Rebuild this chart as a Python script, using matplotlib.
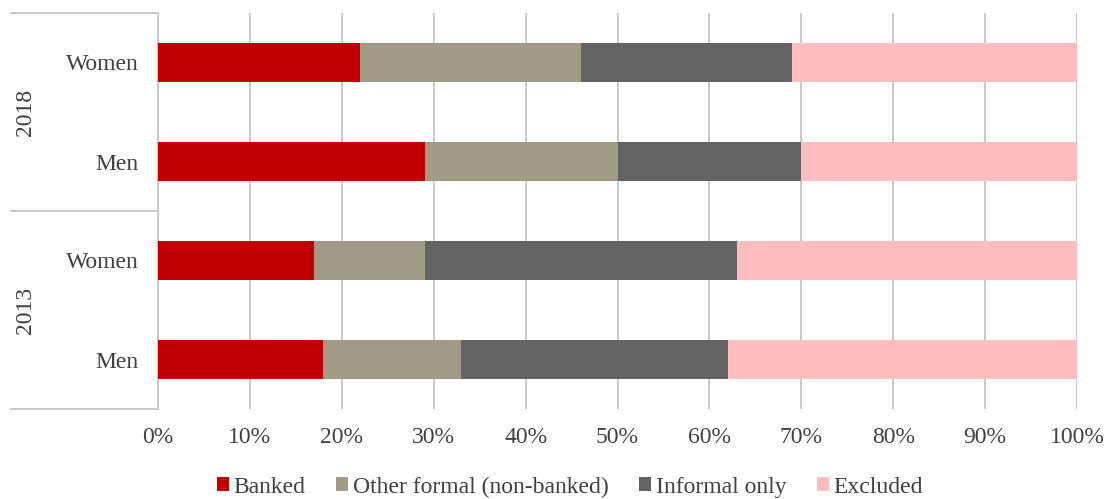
import matplotlib
matplotlib.use("Agg")
import matplotlib.pyplot as plt
import numpy as np

# Categories listed bottom to top
years = ["2013", "2018"]
groups = ["Men", "Women", "Men", "Women"]
group_years = ["2013", "2013", "2018", "2018"]

series_names = ["Banked", "Other formal (non-banked)", "Informal only", "Excluded"]
banked = [18, 17, 29, 22]
other_formal = [15, 12, 21, 24]
informal_only = [29, 34, 20, 23]
excluded = [38, 37, 30, 31]

colors = ["#C00000", "#A29A86", "#636363", "#FFBDBD"]
text_color = "#404040"
grid_color = "#c8c8c8"
fs = 17

plt.rcParams["font.family"] = ["Liberation Serif", "DejaVu Serif"]
plt.rcParams["font.size"] = fs

fig = plt.figure(figsize=(11.11, 4.99), dpi=100)
ax = fig.add_axes([158 / 1111, 90 / 499, 919 / 1111, 396 / 499])

ypos = np.arange(len(groups))
left = np.zeros(len(groups))
handles = []
for name, vals, col in zip(series_names, [banked, other_formal, informal_only, excluded], colors):
    vals = np.array(vals, dtype=float)
    h = ax.barh(ypos, vals, left=left, height=0.4, color=col, label=name, zorder=3)
    handles.append(h)
    left += vals

ax.set_xlim(0, 100)
ax.set_ylim(-0.5, len(groups) - 0.5)
ax.set_xticks(np.arange(0, 101, 10))
ax.set_xticklabels([f"{v}%" for v in range(0, 101, 10)])
ax.set_yticks(ypos)
ax.set_yticklabels(groups)
ax.tick_params(axis="x", length=0, pad=13, colors=text_color, labelsize=fs)
ax.tick_params(axis="y", length=0, pad=14, colors=text_color, labelsize=fs)
ax.grid(axis="x", color=grid_color, lw=1.4, zorder=0)
for s in ["top", "right", "bottom"]:
    ax.spines[s].set_visible(False)
ax.spines["left"].set_color(grid_color)
ax.spines["left"].set_linewidth(1.4)

# Group brackets for the years
x0 = (10 - 158) / 919
for yy in [0.0, 0.5, 1.0]:
    ax.plot([x0, 0], [yy, yy], transform=ax.transAxes, color=grid_color,
            lw=1.4, clip_on=False, solid_capstyle="butt")
xl = (26 - 158) / 919
for i, yr in enumerate(years):
    ax.text(xl, 0.25 + 0.5 * i, yr, transform=ax.transAxes, rotation=90,
            ha="center", va="center", color=text_color, fontsize=fs)

fig.legend(handles=handles, labels=series_names, loc="center",
           bbox_to_anchor=(570 / 1111, 12 / 499), ncol=4, frameon=False,
           handlelength=0.5, handleheight=0.5, handletextpad=0.2,
           columnspacing=1.3, fontsize=fs, labelcolor=text_color)

fig.savefig("out.png", dpi=100)
